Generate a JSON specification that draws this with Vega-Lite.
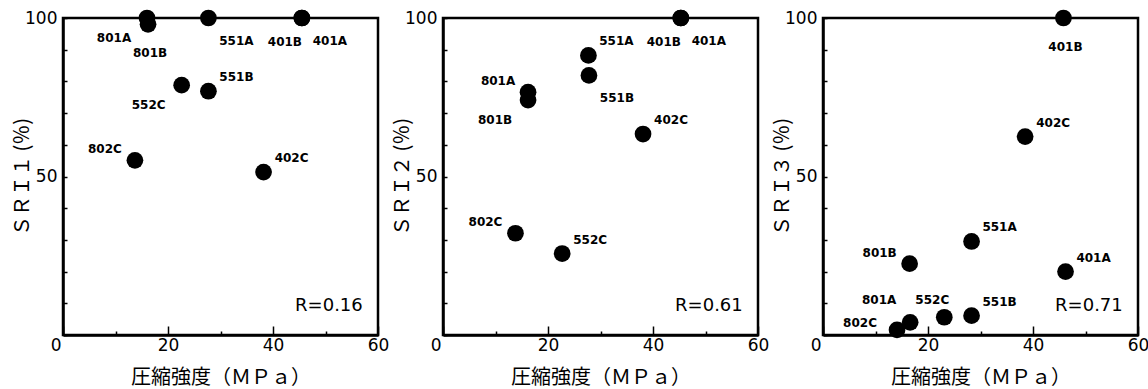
{
  "$schema": "https://vega.github.io/schema/vega-lite/v6.json",
  "background": "white",
  "padding": {"left": 11, "top": 7, "right": 0, "bottom": 0},
  "spacing": 65,
  "bounds": "flush",
  "datasets": {
    "pts": [
      {"panel": 1, "name": "801A", "strength": 16.0, "sri": 100, "side": "ll"},
      {"panel": 1, "name": "801B", "strength": 16.2, "sri": 98, "side": "b"},
      {"panel": 1, "name": "551A", "strength": 27.7, "sri": 100, "side": "lr"},
      {"panel": 1, "name": "401B", "strength": 45.5, "sri": 100, "side": "bl"},
      {"panel": 1, "name": "401A", "strength": 45.5, "sri": 100, "side": "lr"},
      {"panel": 1, "name": "552C", "strength": 22.6, "sri": 78.8, "side": "ll"},
      {"panel": 1, "name": "551B", "strength": 27.7, "sri": 76.9, "side": "ur"},
      {"panel": 1, "name": "802C", "strength": 13.7, "sri": 55.1, "side": "ul"},
      {"panel": 1, "name": "402C", "strength": 38.2, "sri": 51.4, "side": "ur"},
      {"panel": 2, "name": "401A", "strength": 45.3, "sri": 100, "side": "lr"},
      {"panel": 2, "name": "401B", "strength": 45.3, "sri": 100, "side": "bl"},
      {"panel": 2, "name": "551A", "strength": 27.7, "sri": 88.2, "side": "ur"},
      {"panel": 2, "name": "551B", "strength": 27.8, "sri": 81.9, "side": "lr"},
      {"panel": 2, "name": "801A", "strength": 16.2, "sri": 76.6, "side": "ul"},
      {"panel": 2, "name": "801B", "strength": 16.2, "sri": 74.1, "side": "ll"},
      {"panel": 2, "name": "402C", "strength": 38.1, "sri": 63.4, "side": "ur"},
      {"panel": 2, "name": "802C", "strength": 13.8, "sri": 32.1, "side": "ul"},
      {"panel": 2, "name": "552C", "strength": 22.7, "sri": 25.7, "side": "ur"},
      {"panel": 3, "name": "401B", "strength": 45.8, "sri": 100, "side": "b"},
      {"panel": 3, "name": "402C", "strength": 38.5, "sri": 62.6, "side": "ur"},
      {"panel": 3, "name": "551A", "strength": 28.3, "sri": 29.5, "side": "ur"},
      {"panel": 3, "name": "801B", "strength": 16.5, "sri": 22.5, "side": "ul"},
      {"panel": 3, "name": "401A", "strength": 46.2, "sri": 20.0, "side": "ur"},
      {"panel": 3, "name": "801A", "strength": 16.6, "sri": 4.0, "side": "ulh"},
      {"panel": 3, "name": "552C", "strength": 23.1, "sri": 5.6, "side": "u"},
      {"panel": 3, "name": "551B", "strength": 28.3, "sri": 6.1, "side": "ur"},
      {"panel": 3, "name": "802C", "strength": 14.1, "sri": 1.6, "side": "l"}
    ],
    "rvals": [
      {"panel": 1, "r": "R=0.16"},
      {"panel": 2, "r": "R=0.61"},
      {"panel": 3, "r": "R=0.71"}
    ]
  },
  "hconcat": [
    {
      "width": 315, "height": 317,
      "layer": [
        {
          "data": {"name": "pts"},
          "transform": [{"filter": "datum.panel == 1"}],
          "mark": {"type": "point", "filled": true, "size": 280, "color": "black", "opacity": 1},
          "encoding": {
            "x": {"field": "strength", "type": "quantitative", "scale": {"domain": [0, 60], "nice": false}, "title": "圧縮強度（ＭＰａ）",
              "axis": {"tickCount": 6, "labelOverlap": false, "labelExpr": "datum.value % 20 === 0 ? datum.label : ''"}},
            "y": {"field": "sri", "type": "quantitative", "scale": {"domain": [0, 100], "nice": false}, "title": "ＳＲＩ１ (％)",
              "axis": {"tickCount": 10, "labelOverlap": false, "labelExpr": "datum.value === 50 || datum.value === 100 ? datum.label : ''"}}
          }
        },
        {
          "data": {"name": "pts"},
          "transform": [{"filter": "datum.panel == 1"}],
          "mark": {"type": "text", "font": "DejaVu Sans", "fontSize": 12, "fontWeight": "bold", "color": "black", "align": "center", "baseline": "middle",
            "dx": {"expr": "datum.side=='ur'?28:datum.side=='lr'?28:datum.side=='ul'?-30:datum.side=='ll'?-33:datum.side=='bl'?-17:datum.side=='b'?2:datum.side=='ulh'?-31:datum.side=='u'?-12:-37"},
            "dy": {"expr": "datum.side=='ur'?-14:datum.side=='lr'?23:datum.side=='ul'?-11:datum.side=='ll'?20:datum.side=='bl'?24:datum.side=='b'?29:datum.side=='ulh'?-22:datum.side=='u'?-17:-7"}},
          "encoding": {
            "x": {"field": "strength", "type": "quantitative"},
            "y": {"field": "sri", "type": "quantitative"},
            "text": {"field": "name"}
          }
        },
        {
          "data": {"name": "rvals"},
          "transform": [{"filter": "datum.panel == 1"}],
          "mark": {"type": "text", "font": "DejaVu Sans", "fontSize": 18, "color": "black", "align": "right", "baseline": "middle"},
          "encoding": {
            "x": {"datum": 57.1},
            "y": {"datum": 9},
            "text": {"field": "r"}
          }
        }
      ]
    },
    {
      "width": 315, "height": 317,
      "layer": [
        {
          "data": {"name": "pts"},
          "transform": [{"filter": "datum.panel == 2"}],
          "mark": {"type": "point", "filled": true, "size": 280, "color": "black", "opacity": 1},
          "encoding": {
            "x": {"field": "strength", "type": "quantitative", "scale": {"domain": [0, 60], "nice": false}, "title": "圧縮強度（ＭＰａ）",
              "axis": {"tickCount": 6, "labelOverlap": false, "labelExpr": "datum.value % 20 === 0 ? datum.label : ''"}},
            "y": {"field": "sri", "type": "quantitative", "scale": {"domain": [0, 100], "nice": false}, "title": "ＳＲＩ２ (％)",
              "axis": {"tickCount": 10, "labelOverlap": false, "labelExpr": "datum.value === 50 || datum.value === 100 ? datum.label : ''"}}
          }
        },
        {
          "data": {"name": "pts"},
          "transform": [{"filter": "datum.panel == 2"}],
          "mark": {"type": "text", "font": "DejaVu Sans", "fontSize": 12, "fontWeight": "bold", "color": "black", "align": "center", "baseline": "middle",
            "dx": {"expr": "datum.side=='ur'?28:datum.side=='lr'?28:datum.side=='ul'?-30:datum.side=='ll'?-33:datum.side=='bl'?-17:datum.side=='b'?2:datum.side=='ulh'?-31:datum.side=='u'?-12:-37"},
            "dy": {"expr": "datum.side=='ur'?-14:datum.side=='lr'?23:datum.side=='ul'?-11:datum.side=='ll'?20:datum.side=='bl'?24:datum.side=='b'?29:datum.side=='ulh'?-22:datum.side=='u'?-17:-7"}},
          "encoding": {
            "x": {"field": "strength", "type": "quantitative"},
            "y": {"field": "sri", "type": "quantitative"},
            "text": {"field": "name"}
          }
        },
        {
          "data": {"name": "rvals"},
          "transform": [{"filter": "datum.panel == 2"}],
          "mark": {"type": "text", "font": "DejaVu Sans", "fontSize": 18, "color": "black", "align": "right", "baseline": "middle"},
          "encoding": {
            "x": {"datum": 57.1},
            "y": {"datum": 9},
            "text": {"field": "r"}
          }
        }
      ]
    },
    {
      "width": 315, "height": 317,
      "layer": [
        {
          "data": {"name": "pts"},
          "transform": [{"filter": "datum.panel == 3"}],
          "mark": {"type": "point", "filled": true, "size": 280, "color": "black", "opacity": 1},
          "encoding": {
            "x": {"field": "strength", "type": "quantitative", "scale": {"domain": [0, 60], "nice": false}, "title": "圧縮強度（ＭＰａ）",
              "axis": {"tickCount": 6, "labelOverlap": false, "labelExpr": "datum.value % 20 === 0 ? datum.label : ''"}},
            "y": {"field": "sri", "type": "quantitative", "scale": {"domain": [0, 100], "nice": false}, "title": "ＳＲＩ３ (％)",
              "axis": {"tickCount": 10, "labelOverlap": false, "labelExpr": "datum.value === 50 || datum.value === 100 ? datum.label : ''"}}
          }
        },
        {
          "data": {"name": "pts"},
          "transform": [{"filter": "datum.panel == 3"}],
          "mark": {"type": "text", "font": "DejaVu Sans", "fontSize": 12, "fontWeight": "bold", "color": "black", "align": "center", "baseline": "middle",
            "dx": {"expr": "datum.side=='ur'?28:datum.side=='lr'?28:datum.side=='ul'?-30:datum.side=='ll'?-33:datum.side=='bl'?-17:datum.side=='b'?2:datum.side=='ulh'?-31:datum.side=='u'?-12:-37"},
            "dy": {"expr": "datum.side=='ur'?-14:datum.side=='lr'?23:datum.side=='ul'?-11:datum.side=='ll'?20:datum.side=='bl'?24:datum.side=='b'?29:datum.side=='ulh'?-22:datum.side=='u'?-17:-7"}},
          "encoding": {
            "x": {"field": "strength", "type": "quantitative"},
            "y": {"field": "sri", "type": "quantitative"},
            "text": {"field": "name"}
          }
        },
        {
          "data": {"name": "rvals"},
          "transform": [{"filter": "datum.panel == 3"}],
          "mark": {"type": "text", "font": "DejaVu Sans", "fontSize": 18, "color": "black", "align": "right", "baseline": "middle"},
          "encoding": {
            "x": {"datum": 57.1},
            "y": {"datum": 9},
            "text": {"field": "r"}
          }
        }
      ]
    }
  ],
  "config": {
    "view": {"stroke": "black", "strokeWidth": 2.5},
    "axis": {
      "grid": false,
      "ticks": true,
      "domainColor": "black",
      "domainWidth": 2.5,
      "tickColor": "black",
      "tickWidth": 1.5,
      "labelFont": "DejaVu Sans",
      "labelFontSize": 17,
      "labelColor": "black",
      "labelFlush": false,
      "labelOverlap": false,
      "labelBound": false,
      "titleFont": "Noto Sans CJK JP",
      "titleFontSize": 20,
      "titleFontWeight": "normal",
      "titleColor": "black"
    },
    "axisX": {
      "tickSize": {"condition": {"test": "datum.value % 20 === 0", "value": -9}, "value": -4},
      "labelAlign": {"condition": {"test": "datum.value === 0", "value": "right"}, "value": "center"},
      "labelOffset": {"condition": {"test": "datum.value === 0", "value": -2}, "value": 0},
      "labelPadding": 11,
      "titlePadding": 9
    },
    "axisY": {
      "tickSize": -4,
      "labelPadding": 10,
      "titlePadding": -8
    }
  }
}
